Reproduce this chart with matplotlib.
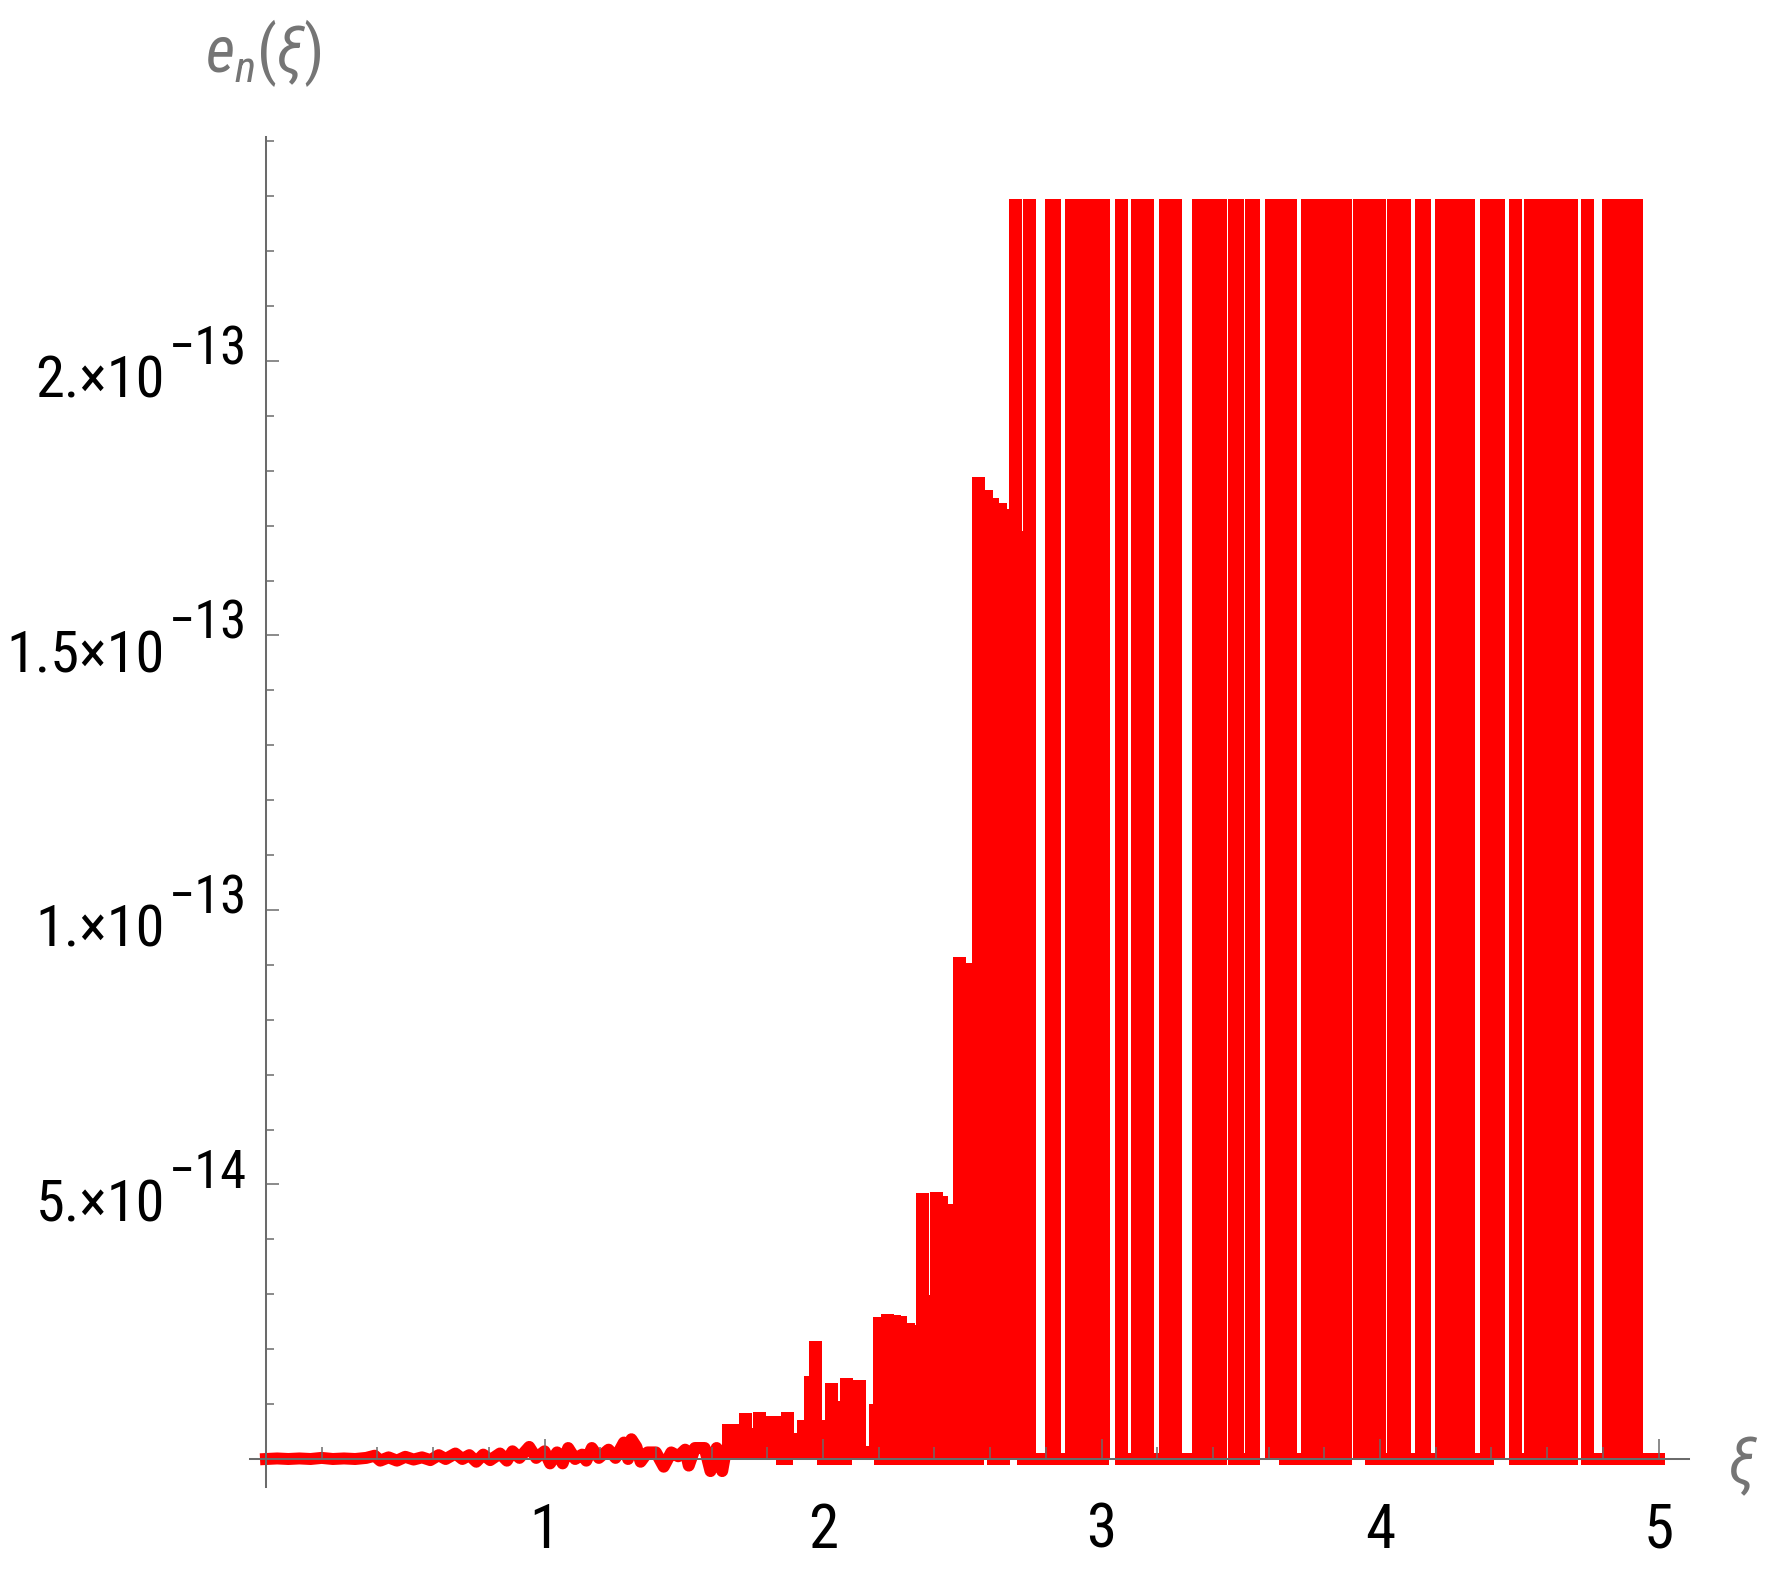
import numpy as np
import matplotlib
matplotlib.use("Agg")
import matplotlib.pyplot as plt
from matplotlib import font_manager as fm
from matplotlib.patches import Rectangle
from matplotlib.ticker import FixedLocator, NullFormatter

plt.rcParams['path.simplify'] = False

# ---------------------------------------------------------------- data
SCALE = 1e-14          # error values below are in units of 1e-14
PLOT_TOP = 22.95       # upper limit of the plotted range (units of 1e-14)
HUGE = 40.0            # value far beyond the plotted range (clipped)

# quiet part of the error curve (xi, e_n)
low_xi = [0.000, 0.040, 0.080, 0.120, 0.160, 0.200, 0.240, 0.280, 0.320, 0.360,
          0.390, 0.410, 0.440, 0.470, 0.500, 0.530, 0.560, 0.590, 0.620, 0.645,
          0.680, 0.705, 0.730, 0.755, 0.780, 0.805, 0.840, 0.865, 0.885, 0.910,
          0.945, 0.970, 1.000, 1.020, 1.045, 1.065, 1.085, 1.110, 1.135, 1.150,
          1.170, 1.195, 1.230, 1.255, 1.285, 1.300, 1.312, 1.330, 1.345, 1.370,
          1.400, 1.428, 1.455, 1.480, 1.505, 1.518, 1.540, 1.575, 1.596, 1.618,
          1.638, 1.650]
low_err = [0.00, 0.01, 0.00, 0.01, 0.00, 0.02, 0.00, 0.01, 0.00, 0.02,
           0.06, -0.03, 0.03, -0.03, 0.04, -0.01, 0.03, -0.02, 0.07, 0.00,
           0.10, 0.00, 0.07, -0.05, 0.08, -0.02, 0.10, -0.03, 0.14, 0.02,
           0.22, 0.02, 0.14, -0.08, 0.12, -0.08, 0.20, 0.00, 0.08, -0.03,
           0.20, 0.02, 0.17, 0.02, 0.30, 0.00, 0.36, 0.22, -0.05, 0.12,
           0.12, -0.14, 0.12, 0.05, 0.17, -0.12, 0.20, 0.20, -0.22, 0.20,
           -0.22, 0.12]

# oscillating part: the sampled curve jumps between a peak and a base value;
# nan marks an interruption of the curve
nan = float('nan')
osc_xi = [1.659, 1.691, 1.720, 1.745, 1.770, 1.799, 1.828, 1.849, 1.871, 1.903,
          1.928, 1.953, 1.971, 1.996, 2.029, 2.054, 2.083, 2.108, 2.129, 2.187,
          2.201, 2.230, 2.255, 2.276, 2.305, 2.323, 2.355, 2.381, 2.406, 2.424,
          2.445, 2.488, 2.513, 2.557, 2.585, 2.607, 2.636, 2.650,
          2.689, 2.715, 2.740, 2.819, 2.829, 2.890, 2.926, 2.962, 3.005, nan,
          3.070, 3.127, 3.163, 3.228, 3.264, 3.346, 3.386, 3.425, nan,
          3.476, 3.487, 3.537, 3.544, nan,
          3.610, nan,
          3.659, 3.677, 3.738, 3.774, 3.810, 3.846, 3.874, nan,
          3.923, nan,
          3.968, 3.996, 4.047, 4.086, 4.147, 4.158, 4.219, 4.255, 4.287, 4.316, 4.382, nan,
          4.422, nan,
          4.483, 4.539, 4.575, 4.610, 4.636, 4.684, nan,
          4.743, 4.819, 4.855, 4.890, 4.919]
osc_peak = [0.53, 0.53, 0.72, 0.45, 0.75, 0.68, 0.67, 0.51, 0.74, 0.36,
            0.61, 1.40, 2.04, 0.60, 1.27, 0.95, 1.36, 1.33, 1.33, 0.90,
            2.48, 2.54, 2.52, 2.50, 2.36, 2.33, 4.73, 2.87, 4.75, 4.68,
            4.53, 9.04, 8.92, 17.77, 17.54, 17.40, 17.30, 17.20,
            HUGE, 16.8, HUGE, HUGE, HUGE, HUGE, HUGE, HUGE, HUGE, nan,
            HUGE, HUGE, HUGE, HUGE, HUGE, HUGE, HUGE, HUGE, nan,
            HUGE, HUGE, HUGE, HUGE, nan,
            HUGE, nan,
            HUGE, HUGE, HUGE, HUGE, HUGE, HUGE, HUGE, nan,
            HUGE, nan,
            HUGE, HUGE, HUGE, HUGE, HUGE, HUGE, HUGE, HUGE, HUGE, HUGE, HUGE, nan,
            HUGE, nan,
            HUGE, HUGE, HUGE, HUGE, HUGE, HUGE, nan,
            HUGE, HUGE, HUGE, HUGE, HUGE]
osc_base = [0.12, 0.12, 0.12, 0.12, 0.12, 0.12, 0.12, 0.00, 0.12, 0.12,
            0.12, 0.12, 0.12, 0.00, 0.00, 0.00, 0.12, 0.12, 0.12, 0.12,
            0.00, 0.00, 0.00, 0.12, 0.00, 0.00, 0.00, 0.00, 0.00, 0.12,
            0.00, 0.00, 0.00, 0.12, 0.12, 0.00, 0.00, 0.12,
            0.12, 0.00, 0.00, 0.00, 0.00, 0.00, 0.12, 0.00, 0.12, nan,
            0.00, 0.00, 0.00, 0.00, 0.00, 0.00, 0.00, 0.00, nan,
            0.00, 0.00, 0.00, 0.00, nan,
            0.12, nan,
            0.00, 0.00, 0.00, 0.12, 0.00, 0.00, 0.00, nan,
            0.12, nan,
            0.00, 0.00, 0.00, 0.00, 0.00, 0.00, 0.00, 0.00, 0.00, 0.00, 0.00, nan,
            0.12, nan,
            0.00, 0.00, 0.00, 0.00, 0.00, 0.00, nan,
            0.00, 0.00, 0.00, 0.00, 0.00]
end_xi, end_err = 5.0, 0.0

x_ticks = [1, 2, 3, 4, 5]
x_tick_labels = ['1', '2', '3', '4', '5']
y_ticks = [5, 10, 15, 20]                  # units of 1e-14
y_tick_mant = ['5.', '1.', '1.5', '2.']
y_tick_exp = ['\u221214', '\u221213', '\u221213', '\u221213']

# ---------------------------------------------------------------- fonts
names = {f.name for f in fm.fontManager.ttflist}
FONT, NARROW = 'Liberation Sans', False
for cand in ['Liberation Sans Narrow', 'Roboto Condensed', 'Open Sans Condensed']:
    if cand in names:
        FONT, NARROW = cand, True
        break
plt.rcParams['font.family'] = [FONT, 'DejaVu Sans']
plt.rcParams['mathtext.fontset'] = 'custom'
plt.rcParams['mathtext.rm'] = FONT
plt.rcParams['mathtext.it'] = FONT + ':italic'
MAIN_FS = 42 if NARROW else 35
SUP_FS = MAIN_FS * 0.9
LABEL_FS = 46 if NARROW else 40

GREY = '#6b6b6b'
LABEL_GREY = '#757575'
RED = '#ff0000'

# ---------------------------------------------------------------- figure
W, H = 1790, 1572
fig = plt.figure(figsize=(W / 100, H / 100), dpi=100)
X0, X1, Y0, Y1 = 250, 1689, 137, 1487
ax = fig.add_axes([X0 / W, 1 - Y1 / H, (X1 - X0) / W, (Y1 - Y0) / H])
ax.set_xlim(-0.0575, 5.1095)
ax.set_ylim(-0.51 * SCALE, 24.08 * SCALE)

# polyline of the oscillating part: every sample is a vertical stroke up to
# its peak and back to its base; the curve then runs along the base level
EPS = 0.004
px, py = [low_xi[-1]], [low_err[-1]]
prev_base = low_err[-1]
for x, t, b in zip(osc_xi, osc_peak, osc_base):
    if np.isnan(x):
        px.append(nan); py.append(nan)
        prev_base = None
        continue
    start = b if prev_base is None else prev_base
    px += [x, x, x + EPS, x + EPS]
    py += [start, t, t, b]
    prev_base = b
px.append(end_xi); py.append(end_err)

LW = 12 * 72 / 100
clip = Rectangle((-1, -10 * SCALE), 10, (10 + PLOT_TOP) * SCALE, transform=ax.transData)
l1, = ax.plot(low_xi, np.array(low_err) * SCALE, color=RED, lw=LW,
              solid_joinstyle='round', solid_capstyle='projecting', zorder=2)
l2, = ax.plot(px, np.array(py) * SCALE, color=RED, lw=LW,
              solid_joinstyle='miter', solid_capstyle='projecting', zorder=2)
for l in (l1, l2):
    l.set_clip_path(clip)

# ---------------------------------------------------------------- axes
for s in ['top', 'right']:
    ax.spines[s].set_visible(False)
for s in ['left', 'bottom']:
    ax.spines[s].set_position(('data', 0))
    ax.spines[s].set_color(GREY)
    ax.spines[s].set_linewidth(1.45)
    ax.spines[s].set_zorder(3)
ax.set_axisbelow(False)
ax.patch.set_visible(False)

x_minor = [round(0.2 * k, 1) for k in range(1, 25) if k % 5]
y_minor = [k * SCALE for k in range(1, 25) if k % 5]
ax.xaxis.set_major_locator(FixedLocator(x_ticks))
ax.xaxis.set_minor_locator(FixedLocator(x_minor))
ax.yaxis.set_major_locator(FixedLocator([v * SCALE for v in y_ticks]))
ax.yaxis.set_minor_locator(FixedLocator(y_minor))
for a in (ax.xaxis, ax.yaxis):
    a.set_major_formatter(NullFormatter())
    a.set_minor_formatter(NullFormatter())
ax.tick_params(axis='x', which='major', direction='in', length=14.4, width=1.1, color=GREY)
ax.tick_params(axis='x', which='minor', direction='in', length=8.6, width=1.1, color=GREY)
ax.tick_params(axis='y', which='major', direction='in', length=9.4, width=1.1, color=GREY)
ax.tick_params(axis='y', which='minor', direction='in', length=5.8, width=1.1, color=GREY)

# x tick labels
for t, lab in zip(x_ticks, x_tick_labels):
    ax.text(t, -1.612 * SCALE, lab, ha='center', va='baseline',
            fontsize=MAIN_FS + 2, color='black')

# y tick labels in Mathematica style "2.x10^-13"
renderer = fig.canvas.get_renderer()
inv = ax.transData.inverted()
for v, mant, ex in zip(y_ticks, y_tick_mant, y_tick_exp):
    sup = ax.text(-0.0682, (v - 0.055) * SCALE, ex, ha='right', va='baseline',
                  fontsize=SUP_FS, color='black')
    bb = sup.get_window_extent(renderer)
    xd = inv.transform((bb.x0 - 4, 0))[0]
    ax.text(xd, (v - 0.674) * SCALE, mant + '\u00d710', ha='right', va='baseline',
            fontsize=MAIN_FS, color='black')

# axis labels
ax.text(-0.011, 25.26 * SCALE, r'$e_{n}(\xi)$', ha='center', va='baseline',
        fontsize=LABEL_FS, color=LABEL_GREY)
ax.text(5.296, -0.11 * SCALE, '\u03be', ha='center', va='center', style='italic',
        fontsize=LABEL_FS, color=LABEL_GREY)

fig.savefig('out.png', dpi=100, facecolor='white')
